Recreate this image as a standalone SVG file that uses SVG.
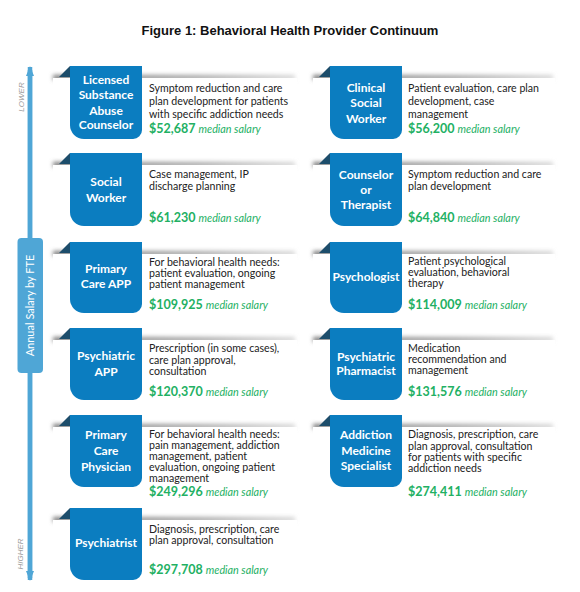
<svg xmlns="http://www.w3.org/2000/svg" width="580" height="592" viewBox="0 0 580 592">
<defs>
<linearGradient id="shg" x1="0" y1="0" x2="1" y2="0">
<stop offset="0" stop-color="#7a7a7a"/>
<stop offset="0.6" stop-color="#a8a8a8"/>
<stop offset="1" stop-color="#d8d8d8"/>
</linearGradient>
<filter id="blur" x="-10%" y="-200%" width="120%" height="500%"><feGaussianBlur stdDeviation="2"/></filter>
<marker id="ah" viewBox="0 0 10 8" refX="9" refY="4" markerWidth="10" markerHeight="8" markerUnits="userSpaceOnUse" orient="auto"><path d="M0,0 L10,4 L0,8 Z" fill="#4fa6d6"/></marker>
</defs>
<style>
.title{font-family:"Liberation Sans",Arial,sans-serif;font-weight:bold;font-size:13px;fill:#111}
.tab{fill:#0b7dc0}
.fold{fill:#1c4d6b}
.sh{fill:url(#shg);filter:url(#blur)}
.panel{fill:#fff}
.tt{font-family:Lato,"Noto Sans",sans-serif;font-weight:bold;font-size:12px;fill:#fff;text-anchor:middle}
.d{font-family:Lato,"Noto Sans",sans-serif;font-size:10.6px;fill:#222}
.sal{font-family:Lato,"Noto Sans",sans-serif;font-size:12.5px;font-weight:bold;fill:#22b063}
.med{font-weight:normal;font-style:italic;font-size:10.8px}
.axl{font-family:"Liberation Sans",Arial,sans-serif;font-style:italic;font-size:8px;fill:#9a9a9a;text-anchor:middle}
.axt{font-family:Lato,"Noto Sans",sans-serif;font-size:11px;fill:#fff;text-anchor:middle}
</style>
<rect width="580" height="592" fill="#fff"/>
<text class="title" x="290" y="35" text-anchor="middle">Figure 1: Behavioral Health Provider Continuum</text>

<g id="axis">
<line x1="30" y1="578" x2="30" y2="67" stroke="#4fa6d6" stroke-width="4.5" marker-end="url(#ah)"/>
<line x1="30" y1="70" x2="30" y2="580" stroke="#4fa6d6" stroke-width="4.5" marker-end="url(#ah)"/>
<rect x="17.5" y="238" width="25.5" height="135" rx="4" fill="#4fa6d6"/>
<text class="axt" transform="translate(34,305.5) rotate(-90)">Annual Salary by FTE</text>
<text class="axl" transform="translate(24,97) rotate(-90)">LOWER</text>
<text class="axl" transform="translate(23,554) rotate(-90)">HIGHER</text>
</g>

<g id="n1" transform="translate(70,66)">
<rect class="sh" x="-17" y="9" width="242" height="5"/>
<rect class="panel" x="-17" y="12" width="244" height="64"/>
<polygon class="fold" points="-11,11 0,0 0,11"/>
<path class="tab" d="M0,0 H72 V64 A9,9 0 0 1 63,73 H14 A14,14 0 0 1 0,59 Z"/>
<text class="tt" x="36" y="18">Licensed</text>
<text class="tt" x="36" y="33">Substance</text>
<text class="tt" x="36" y="48.5">Abuse</text>
<text class="tt" x="36" y="63">Counselor</text>
<text class="d" x="79" y="25.7">Symptom reduction and care</text>
<text class="d" x="79" y="38.7">plan development for patients</text>
<text class="d" x="79" y="51.7">with specific addiction needs</text>
<text class="sal" x="79" y="67.3">$52,687 <tspan class="med">median salary</tspan></text>
</g>

<g id="n2" transform="translate(330,66)">
<rect class="sh" x="-17" y="9" width="240" height="5"/>
<rect class="panel" x="-17" y="12" width="242" height="64"/>
<polygon class="fold" points="-11,11 0,0 0,11"/>
<path class="tab" d="M0,0 H72 V64 A9,9 0 0 1 63,73 H14 A14,14 0 0 1 0,59 Z"/>
<text class="tt" x="36" y="25.7">Clinical</text>
<text class="tt" x="36" y="41.3">Social</text>
<text class="tt" x="36" y="56.7">Worker</text>
<text class="d" x="78" y="25.7">Patient evaluation, care plan</text>
<text class="d" x="78" y="38.7">development, case</text>
<text class="d" x="78" y="51.7">management</text>
<text class="sal" x="78" y="67.3">$56,200 <tspan class="med">median salary</tspan></text>
</g>

<g id="n3" transform="translate(70,153)">
<rect class="sh" x="-17" y="9" width="242" height="5"/>
<rect class="panel" x="-17" y="12" width="244" height="64"/>
<polygon class="fold" points="-11,11 0,0 0,11"/>
<path class="tab" d="M0,0 H72 V64 A9,9 0 0 1 63,73 H14 A14,14 0 0 1 0,59 Z"/>
<text class="tt" x="36" y="33">Social</text>
<text class="tt" x="36" y="48.7">Worker</text>
<text class="d" x="79" y="25.3">Case management, IP</text>
<text class="d" x="79" y="37">discharge planning</text>
<text class="sal" x="79" y="68.7">$61,230 <tspan class="med">median salary</tspan></text>
</g>

<g id="n4" transform="translate(330,153)">
<rect class="sh" x="-17" y="9" width="240" height="5"/>
<rect class="panel" x="-17" y="12" width="242" height="64"/>
<polygon class="fold" points="-11,11 0,0 0,11"/>
<path class="tab" d="M0,0 H72 V64 A9,9 0 0 1 63,73 H14 A14,14 0 0 1 0,59 Z"/>
<text class="tt" x="36" y="26">Counselor</text>
<text class="tt" x="36" y="41">or</text>
<text class="tt" x="36" y="56.3">Therapist</text>
<text class="d" x="78" y="25.3">Symptom reduction and care</text>
<text class="d" x="78" y="37">plan development</text>
<text class="sal" x="78" y="68.7">$64,840 <tspan class="med">median salary</tspan></text>
</g>

<g id="n5" transform="translate(70,242)">
<rect class="sh" x="-17" y="9" width="242" height="5"/>
<rect class="panel" x="-17" y="12" width="244" height="64"/>
<polygon class="fold" points="-11,11 0,0 0,11"/>
<path class="tab" d="M0,0 H72 V62 A9,9 0 0 1 63,71 H14 A14,14 0 0 1 0,57 Z"/>
<text class="tt" x="36" y="31.3">Primary</text>
<text class="tt" x="36" y="46.3">Care APP</text>
<text class="d" x="79" y="23.7">For behavioral health needs:</text>
<text class="d" x="79" y="34.5">patient evaluation, ongoing</text>
<text class="d" x="79" y="45.5">patient management</text>
<text class="sal" x="79" y="67.3">$109,925 <tspan class="med">median salary</tspan></text>
</g>

<g id="n6" transform="translate(330,242)">
<rect class="sh" x="-17" y="9" width="240" height="5"/>
<rect class="panel" x="-17" y="12" width="242" height="64"/>
<polygon class="fold" points="-11,11 0,0 0,11"/>
<path class="tab" d="M0,0 H72 V62 A9,9 0 0 1 63,71 H14 A14,14 0 0 1 0,57 Z"/>
<text class="tt" x="36" y="38.7">Psychologist</text>
<text class="d" x="78" y="23">Patient psychological</text>
<text class="d" x="78" y="34">evaluation, behavioral</text>
<text class="d" x="78" y="45">therapy</text>
<text class="sal" x="78" y="67">$114,009 <tspan class="med">median salary</tspan></text>
</g>

<g id="n7" transform="translate(70,328)">
<rect class="sh" x="-17" y="9" width="242" height="5"/>
<rect class="panel" x="-17" y="12" width="244" height="64"/>
<polygon class="fold" points="-11,11 0,0 0,11"/>
<path class="tab" d="M0,0 H72 V63 A9,9 0 0 1 63,72 H14 A14,14 0 0 1 0,58 Z"/>
<text class="tt" x="36" y="32">Psychiatric</text>
<text class="tt" x="36" y="47.7">APP</text>
<text class="d" x="79" y="24.3">Prescription (in some cases),</text>
<text class="d" x="79" y="35.5">care plan approval,</text>
<text class="d" x="79" y="47">consultation</text>
<text class="sal" x="79" y="68">$120,370 <tspan class="med">median salary</tspan></text>
</g>

<g id="n8" transform="translate(330,328)">
<rect class="sh" x="-17" y="9" width="240" height="5"/>
<rect class="panel" x="-17" y="12" width="242" height="64"/>
<polygon class="fold" points="-11,11 0,0 0,11"/>
<path class="tab" d="M0,0 H72 V63 A9,9 0 0 1 63,72 H14 A14,14 0 0 1 0,58 Z"/>
<text class="tt" x="36" y="32.7">Psychiatric</text>
<text class="tt" x="36" y="47">Pharmacist</text>
<text class="d" x="78" y="23.7">Medication</text>
<text class="d" x="78" y="34.8">recommendation and</text>
<text class="d" x="78" y="46">management</text>
<text class="sal" x="78" y="67.7">$131,576 <tspan class="med">median salary</tspan></text>
</g>

<g id="n9" transform="translate(70,415)">
<rect class="sh" x="-17" y="9" width="242" height="5"/>
<rect class="panel" x="-17" y="12" width="244" height="72"/>
<polygon class="fold" points="-11,11 0,0 0,11"/>
<path class="tab" d="M0,0 H72 V63 A9,9 0 0 1 63,72 H14 A14,14 0 0 1 0,58 Z"/>
<text class="tt" x="36" y="24.3">Primary</text>
<text class="tt" x="36" y="40">Care</text>
<text class="tt" x="36" y="55.7">Physician</text>
<text class="d" x="79" y="22.5">For behavioral health needs:</text>
<text class="d" x="79" y="33.7">pain management, addiction</text>
<text class="d" x="79" y="44.9">management, patient</text>
<text class="d" x="79" y="56.1">evaluation, ongoing patient</text>
<text class="d" x="79" y="67.3">management</text>
<text class="sal" x="79" y="80.8">$249,296 <tspan class="med">median salary</tspan></text>
</g>

<g id="n10" transform="translate(330,415)">
<rect class="sh" x="-17" y="9" width="240" height="5"/>
<rect class="panel" x="-17" y="12" width="242" height="72"/>
<polygon class="fold" points="-11,11 0,0 0,11"/>
<path class="tab" d="M0,0 H72 V63 A9,9 0 0 1 63,72 H14 A14,14 0 0 1 0,58 Z"/>
<text class="tt" x="36" y="24.3">Addiction</text>
<text class="tt" x="36" y="40">Medicine</text>
<text class="tt" x="36" y="55">Specialist</text>
<text class="d" x="78" y="23.3">Diagnosis, prescription, care</text>
<text class="d" x="78" y="34.5">plan approval, consultation</text>
<text class="d" x="78" y="45.8">for patients with specific</text>
<text class="d" x="78" y="57">addiction needs</text>
<text class="sal" x="78" y="80.7">$274,411 <tspan class="med">median salary</tspan></text>
</g>

<g id="n11" transform="translate(70,508)">
<rect class="sh" x="-17" y="9" width="242" height="5"/>
<rect class="panel" x="-17" y="12" width="244" height="64"/>
<polygon class="fold" points="-11,11 0,0 0,11"/>
<path class="tab" d="M0,0 H72 V63 A9,9 0 0 1 63,72 H14 A14,14 0 0 1 0,58 Z"/>
<text class="tt" x="36" y="39.3">Psychiatrist</text>
<text class="d" x="79" y="24.7">Diagnosis, prescription, care</text>
<text class="d" x="79" y="36.3">plan approval, consultation</text>
<text class="sal" x="79" y="66">$297,708 <tspan class="med">median salary</tspan></text>
</g>
</svg>
